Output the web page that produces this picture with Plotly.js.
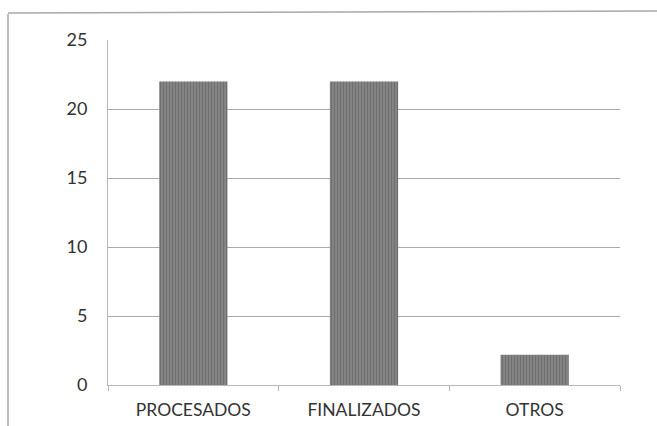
<!DOCTYPE html>
<html>
<head>
<meta charset="utf-8">
<script src="https://cdn.plot.ly/plotly-3.0.1.min.js"></script>
<style>html,body{margin:0;padding:0;background:#fff;}#chart{width:657px;height:426px;}</style>
</head>
<body>
<div id="chart"></div>
<script>
const categories = ["PROCESADOS", "FINALIZADOS", "OTROS"];
const values = [22, 22, 2.2];
const yTicks = [0, 5, 10, 15, 20, 25];

const L = 108, R = 37, T = 40, B = 41, W = 657, H = 426;
const pw = W - L - R, ph = H - T - B;
const px = x => (x - L) / pw;
const py = y => (H - B - y) / ph;

Plotly.newPlot('chart', [{
  type: 'bar',
  x: categories,
  y: values,
  marker: {
    color: '#7c7c7c',
    line: {width: 0},
    pattern: {shape: '|', fgcolor: '#6f6f6f', bgcolor: '#858585', size: 3, solidity: 0.4}
  },
  hoverinfo: 'none'
}], {
  width: W, height: H,
  margin: {l: L, r: R, t: T, b: B, pad: 0},
  paper_bgcolor: '#ffffff',
  plot_bgcolor: '#ffffff',
  bargap: 0.6,
  showlegend: false,
  font: {family: 'Lato, "Open Sans", sans-serif', color: '#333333', size: 17},
  xaxis: {
    type: 'category',
    showgrid: false,
    showline: true,
    linecolor: '#b8b8b8',
    linewidth: 1,
    ticks: 'outside',
    tickson: 'boundaries',
    ticklen: 5,
    tickcolor: '#b8b8b8',
    ticklabelstandoff: 9,
    tickfont: {size: 17.5, color: '#333333'},
    fixedrange: true
  },
  yaxis: {
    range: [0, 25],
    tickvals: yTicks,
    showgrid: true,
    gridcolor: '#aaaaaa',
    gridwidth: 1,
    zeroline: false,
    showline: true,
    linecolor: '#b8b8b8',
    linewidth: 1,
    ticks: '',
    ticklabelstandoff: 16,
    tickfont: {size: 18, color: '#333333'},
    fixedrange: true
  },
  shapes: [
    {type: 'line', xref: 'paper', yref: 'paper', x0: px(8), x1: px(8), y0: py(14), y1: py(426), line: {color: '#a8a8a8', width: 1.5}},
    {type: 'line', xref: 'paper', yref: 'paper', x0: px(8), x1: px(657), y0: py(13), y1: py(11), line: {color: '#a8a8a8', width: 1.5}}
  ]
}, {displayModeBar: false, staticPlot: true});
</script>
</body>
</html>
